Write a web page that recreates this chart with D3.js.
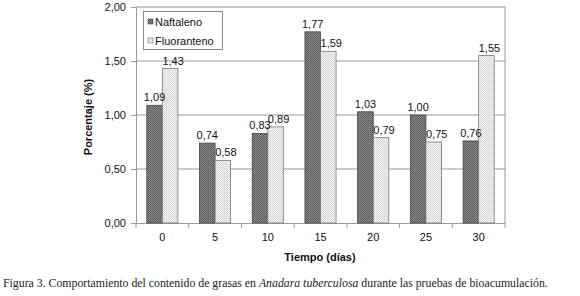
<!DOCTYPE html>
<html><head><meta charset="utf-8">
<script src="https://cdn.jsdelivr.net/npm/d3@7"></script>
<style>body{margin:0;background:#fff}svg{display:block}</style>
</head><body>
<svg id="c" width="580" height="296"></svg>
<script>
const categories = ["0","5","10","15","20","25","30"];
const naftaleno = [1.09,0.74,0.83,1.77,1.03,1.00,0.76];
const fluoranteno = [1.43,0.58,0.89,1.59,0.79,0.75,1.55];
const seriesNames = ["Naftaleno","Fluoranteno"];
const yTicks = [0,0.5,1.0,1.5,2.0];

const svg = d3.select("#c");
const m = {l:136, r:505, t:7, b:223};
const x = d3.scaleBand().domain(categories).range([m.l,m.r]).paddingInner(0.41).paddingOuter(0.205);
const xs = d3.scaleBand().domain(seriesNames).range([0,x.bandwidth()]);
const y = d3.scaleLinear().domain([0,2]).range([m.b,m.t]);
const fmt = v => d3.format(".2f")(v).replace(".",",");

const defs = svg.append("defs");
const p1 = defs.append("pattern").attr("id","pd").attr("width",2).attr("height",2).attr("patternUnits","userSpaceOnUse");
p1.append("rect").attr("width",2).attr("height",2).attr("fill","#8a8a8a");
p1.append("rect").attr("width",1).attr("height",1).attr("fill","#555");
p1.append("rect").attr("x",1).attr("y",1).attr("width",1).attr("height",1).attr("fill","#666");
const p2 = defs.append("pattern").attr("id","pl").attr("width",2).attr("height",2).attr("patternUnits","userSpaceOnUse");
p2.append("rect").attr("width",2).attr("height",2).attr("fill","#f4f4f4");
p2.append("rect").attr("width",1).attr("height",1).attr("fill","#cfcfcf");
p2.append("rect").attr("x",1).attr("y",1).attr("width",1).attr("height",1).attr("fill","#dcdcdc");

// gridlines
svg.append("g").selectAll("line").data(yTicks.filter(d=>d>0)).join("line")
  .attr("x1",m.l).attr("x2",m.r).attr("y1",d=>y(d)).attr("y2",d=>y(d))
  .attr("stroke","#999").attr("stroke-width",1);
svg.append("line").attr("x1",m.r).attr("x2",m.r).attr("y1",m.t).attr("y2",m.b).attr("stroke","#999");

// y axis
const ya = svg.append("g").attr("transform",`translate(${m.l},0)`)
  .call(d3.axisLeft(y).tickValues(yTicks).tickFormat(fmt).tickSize(5).tickPadding(5));
ya.select(".domain").attr("stroke","#999");
ya.selectAll(".tick line").attr("stroke","#999");
ya.selectAll("text").attr("font-family","Liberation Sans, Arial, sans-serif").attr("font-size",11).attr("fill","#111");

// x axis
const xa = svg.append("g").attr("transform",`translate(0,${m.b})`)
  .call(d3.axisBottom(x).tickSize(0).tickPadding(10));
xa.select(".domain").attr("stroke","#999");
xa.selectAll("text").attr("font-family","Liberation Sans, Arial, sans-serif").attr("font-size",11).attr("fill","#111");
const step = x.step();
svg.append("g").selectAll("line").data(d3.range(categories.length+1)).join("line")
  .attr("x1",i=>m.l+i*step).attr("x2",i=>m.l+i*step).attr("y1",m.b).attr("y2",m.b+5).attr("stroke","#999");

// bars
const data = [];
categories.forEach((c,i)=>{
  data.push({c, s:"Naftaleno", v:naftaleno[i]});
  data.push({c, s:"Fluoranteno", v:fluoranteno[i]});
});
svg.append("g").selectAll("rect").data(data).join("rect")
  .attr("x",d=>x(d.c)+xs(d.s)).attr("width",xs.bandwidth())
  .attr("y",d=>y(d.v)).attr("height",d=>y(0)-y(d.v))
  .attr("fill",d=>d.s==="Naftaleno"?"url(#pd)":"url(#pl)")
  .attr("stroke",d=>d.s==="Naftaleno"?"#444":"#777").attr("stroke-width",0.8);

svg.append("g").selectAll("text").data(data).join("text")
  .attr("x",d=>x(d.c)+xs(d.s)+xs.bandwidth()/2+(d.s==="Fluoranteno"?3:0))
  .attr("y",d=>y(d.v)-4)
  .attr("text-anchor","middle")
  .attr("font-family","Liberation Sans, Arial, sans-serif").attr("font-size",11).attr("fill","#111")
  .text(d=>fmt(d.v));

// legend
const lg = svg.append("g");
lg.append("rect").attr("x",143.5).attr("y",11.5).attr("width",79).attr("height",38).attr("fill","#fff").attr("stroke","#888");
seriesNames.forEach((s,i)=>{
  const yy = 22 + i*19;
  lg.append("rect").attr("x",148).attr("y",yy-3).attr("width",5).attr("height",5)
    .attr("fill",i===0?"url(#pd)":"url(#pl)").attr("stroke",i===0?"#444":"#777").attr("stroke-width",0.6);
  lg.append("text").attr("x",155).attr("y",yy+3.5).attr("font-family","Liberation Sans, Arial, sans-serif")
    .attr("font-size",11).attr("fill","#111").text(s);
});

// axis titles
svg.append("text").attr("transform","translate(92,117) rotate(-90)").attr("text-anchor","middle")
  .attr("font-family","Liberation Sans, Arial, sans-serif").attr("font-size",11).attr("font-weight","bold").attr("fill","#111")
  .text("Porcentaje  (%)");
svg.append("text").attr("x",320).attr("y",261).attr("text-anchor","middle")
  .attr("font-family","Liberation Sans, Arial, sans-serif").attr("font-size",11).attr("font-weight","bold").attr("fill","#111")
  .text("Tiempo  (días)");

// caption (font size fitted to the reference width)
const cap = svg.append("text").attr("x",3).attr("y",287).attr("font-family","Liberation Serif, serif")
  .attr("font-size",11).attr("fill","#222");
cap.append("tspan").text("Figura 3. Comportamiento del contenido de grasas en ");
cap.append("tspan").attr("font-style","italic").text("Anadara tuberculosa");
cap.append("tspan").text(" durante las pruebas de bioacumulación.");
const w = cap.node().getComputedTextLength();
cap.attr("font-size", Math.min(12, 11*545/w));
</script>
</body></html>
